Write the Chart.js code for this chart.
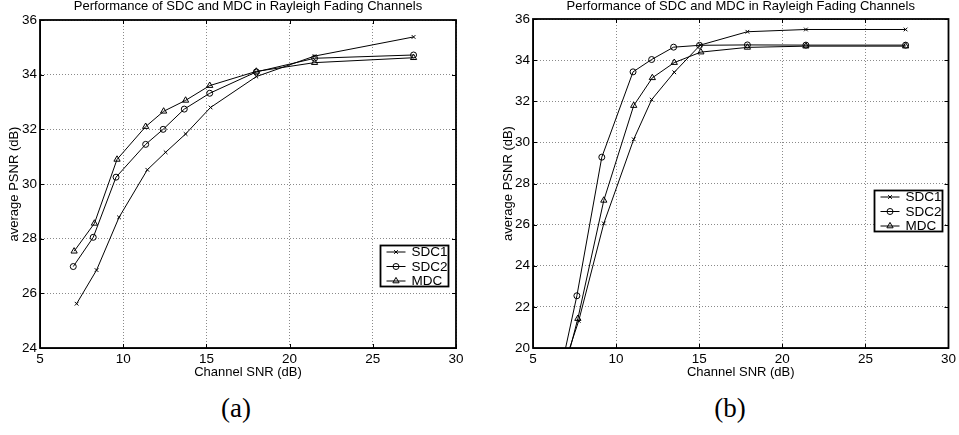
<!DOCTYPE html>
<html>
<head>
<meta charset="utf-8">
<script src="https://cdn.jsdelivr.net/npm/chart.js@4.4.0/dist/chart.umd.min.js"></script>
<style>
  body { margin: 0; background: #fff; width: 959px; height: 435px; overflow: hidden; position: relative; }
  canvas { position: absolute; top: 0; }
  #chartA { left: 0; }
  #chartB { left: 480px; }
  .cap { position: absolute; top: 393px; width: 60px; text-align: center; font-family: "Liberation Serif", serif; font-size: 27px; color: #000; }
</style>
</head>
<body>
<canvas id="chartA" width="480" height="380"></canvas>
<canvas id="chartB" width="479" height="380"></canvas>
<div class="cap" style="left:206px">(a)</div>
<div class="cap" style="left:700px">(b)</div>
<script>
// series names and the title shared by both plots
var seriesNames = ['SDC1', 'SDC2', 'MDC'];
var plotTitle = 'Performance of SDC and MDC in Rayleigh Fading Channels';

// (a) values
var a_sdc1X = [7.2, 8.4, 9.75, 11.45, 12.55, 13.75, 15.25, 18.0, 21.5, 27.45];
var a_sdc1Y = [25.62, 26.85, 28.78, 30.52, 31.16, 31.83, 32.8, 33.93, 34.68, 35.38];
var a_sdc2X = [7.0, 8.2, 9.57, 11.35, 12.4, 13.67, 15.2, 18.0, 21.5, 27.45];
var a_sdc2Y = [26.98, 28.05, 30.25, 31.45, 32.0, 32.74, 33.32, 34.1, 34.6, 34.72];
var a_mdcX = [7.05, 8.27, 9.63, 11.35, 12.43, 13.75, 15.2, 18.0, 21.5, 27.45];
var a_mdcY = [27.54, 28.56, 30.9, 32.1, 32.66, 33.06, 33.6, 34.12, 34.44, 34.62];

// (b) values (first points lie below the axis)
var b_sdc1X = [7.0, 7.75, 9.26, 11.06, 12.14, 13.5, 15.06, 17.9, 21.42, 27.42];
var b_sdc1Y = [19.5, 21.32, 26.06, 30.15, 32.08, 33.41, 34.73, 35.38, 35.49, 35.49];
var b_sdc2X = [6.8, 7.64, 9.14, 11.02, 12.14, 13.46, 15.02, 17.9, 21.42, 27.42];
var b_sdc2Y = [19.4, 22.54, 29.28, 33.43, 34.03, 34.63, 34.72, 34.74, 34.73, 34.73];
var b_mdcX = [7.0, 7.7, 9.26, 11.06, 12.18, 13.5, 15.1, 17.9, 21.42, 27.42];
var b_mdcY = [19.26, 21.43, 27.18, 31.79, 33.14, 33.88, 34.39, 34.62, 34.68, 34.68];

// axis ranges
var xTicks = [5, 10, 15, 20, 25, 30];
var a_yRange = [24, 36];
var b_yRange = [20, 36];

var FONT = '"Liberation Sans", Arial, sans-serif';
var markerStyles = ['crossRot', 'circle', 'triangle'];
var markerSizes = [2.6, 3, 3.6];

function toPoints(xs, ys) {
  return xs.map(function(x, i) { return {x: x, y: ys[i]}; });
}

function makeDataset(i, xs, ys) {
  return {
    label: seriesNames[i],
    data: toPoints(xs, ys),
    borderColor: '#000',
    borderWidth: 1,
    pointStyle: markerStyles[i],
    pointRadius: markerSizes[i],
    pointBorderColor: '#000',
    pointBorderWidth: 1,
    pointBackgroundColor: 'rgba(0,0,0,0)',
    tension: 0,
    fill: false
  };
}

function drawMarker(ctx, style, x, y, r) {
  ctx.beginPath();
  if (style == 'circle') {
    ctx.arc(x, y, r, 0, Math.PI * 2);
  } else if (style == 'triangle') {
    ctx.moveTo(x, y - r);
    ctx.lineTo(x + r * 0.866, y + r * 0.5);
    ctx.lineTo(x - r * 0.866, y + r * 0.5);
    ctx.closePath();
  } else {
    var d = r * 0.7071;
    ctx.moveTo(x - d, y - d); ctx.lineTo(x + d, y + d);
    ctx.moveTo(x + d, y - d); ctx.lineTo(x - d, y + d);
  }
  ctx.stroke();
}

// box, inward ticks, title and legend in the MATLAB manner
var matlabPlugin = {
  id: 'matlab',
  afterDraw: function(chart, args, opts) {
    var ctx = chart.ctx;
    var a = chart.chartArea;
    var xs = chart.scales.x, ys = chart.scales.y;
    ctx.save();
    ctx.strokeStyle = '#000';
    ctx.lineWidth = 1;
    ctx.beginPath();
    xs.ticks.forEach(function(t) {
      var px = Math.round(xs.getPixelForValue(t.value)) + 0.5;
      ctx.moveTo(px, a.bottom); ctx.lineTo(px, a.bottom - 4);
      ctx.moveTo(px, a.top); ctx.lineTo(px, a.top + 4);
    });
    ys.ticks.forEach(function(t) {
      var py = Math.round(ys.getPixelForValue(t.value)) + 0.5;
      ctx.moveTo(a.left, py); ctx.lineTo(a.left + 4, py);
      ctx.moveTo(a.right, py); ctx.lineTo(a.right - 4, py);
    });
    ctx.stroke();
    ctx.lineWidth = 1.8;
    ctx.strokeRect(a.left, a.top, a.right - a.left, a.bottom - a.top);

    ctx.fillStyle = '#000';
    ctx.font = '13px ' + FONT;
    ctx.textAlign = 'center';
    ctx.textBaseline = 'middle';
    ctx.fillText(plotTitle, (a.left + a.right) / 2, 6);

    // legend
    var lg = opts.legend;
    ctx.fillStyle = '#fff';
    ctx.fillRect(lg.x, lg.y, lg.w, lg.h);
    ctx.lineWidth = 1.8;
    ctx.strokeRect(lg.x, lg.y, lg.w, lg.h);
    ctx.lineWidth = 1;
    ctx.font = '13.5px ' + FONT;
    ctx.textAlign = 'left';
    ctx.fillStyle = '#000';
    chart.data.datasets.forEach(function(ds, i) {
      var ry = lg.y + 6.5 + i * 14.5;
      ctx.beginPath();
      ctx.moveTo(lg.x + 6, ry); ctx.lineTo(lg.x + 25, ry);
      ctx.stroke();
      drawMarker(ctx, ds.pointStyle, lg.x + 15.5, ry, ds.pointRadius);
      ctx.fillText(ds.label, lg.x + 31, ry + 0.5);
    });
    ctx.restore();
  }
};

function makeChart(id, datasets, yRange, yWidth, yTitlePad, pad, legend) {
  var ctx = $id(id).getContext('2d');
  return new Chart(ctx, {
    type: 'line',
    data: { datasets: datasets },
    options: {
      responsive: false,
      animation: false,
      devicePixelRatio: 1,
      layout: { padding: pad },
      plugins: {
        legend: { display: false },
        tooltip: { enabled: false },
        matlab: { legend: legend }
      },
      scales: {
        x: {
          type: 'linear', min: 5, max: 30,
          afterBuildTicks: function(s) { s.ticks = xTicks.map(function(v) { return {value: v}; }); },
          ticks: { color: '#000', font: { size: 13.5, family: FONT }, padding: 3, maxRotation: 0, autoSkip: false },
          grid: { color: '#8a8a8a', drawTicks: false, lineWidth: 1 },
          border: { display: true, color: '#000', width: 1, dash: [1, 2] },
          title: { display: true, text: 'Channel SNR (dB)', color: '#000', font: { size: 13, family: FONT }, padding: { top: 0, bottom: 0 } },
          afterFit: function(s) { s.height = 32; }
        },
        y: {
          type: 'linear', min: yRange[0], max: yRange[1],
          ticks: { stepSize: 2, color: '#000', font: { size: 13.5, family: FONT }, padding: 3 },
          grid: { color: '#8a8a8a', drawTicks: false, lineWidth: 1 },
          border: { display: true, color: '#000', width: 1, dash: [1, 2] },
          title: { display: true, text: 'average PSNR (dB)', color: '#000', font: { size: 13, family: FONT }, padding: { top: yTitlePad, bottom: 0 } },
          afterFit: function(s) { s.width = yWidth; }
        }
      }
    },
    plugins: [matlabPlugin]
  });
}

function $id(id) { return document.getElementById(id); }

makeChart('chartA', [
  makeDataset(0, a_sdc1X, a_sdc1Y),
  makeDataset(1, a_sdc2X, a_sdc2Y),
  makeDataset(2, a_mdcX, a_mdcY)
], a_yRange, 40, 7, { top: 20, right: 24, left: 0, bottom: 0 }, { x: 380.5, y: 245.5, w: 68, h: 41 });

makeChart('chartB', [
  makeDataset(0, b_sdc1X, b_sdc1Y),
  makeDataset(1, b_sdc2X, b_sdc2Y),
  makeDataset(2, b_mdcX, b_mdcY)
], b_yRange, 53, 21, { top: 19, right: 9, left: 0, bottom: 0 }, { x: 394.5, y: 190.5, w: 68, h: 41 });
</script>
</body>
</html>
